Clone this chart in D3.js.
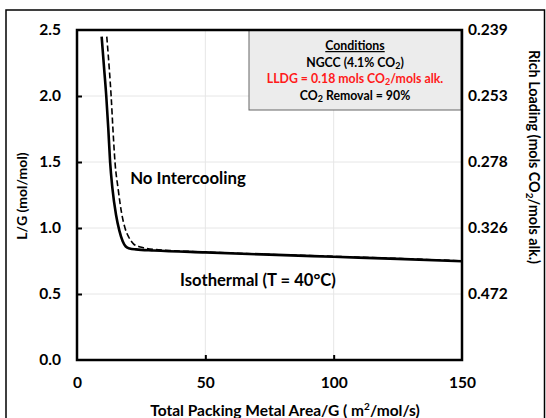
<!DOCTYPE html>
<html>
<head>
<meta charset="utf-8">
<script src="https://cdn.jsdelivr.net/npm/d3@7"></script>
<style>
  html, body { margin: 0; padding: 0; background: #fff; }
  svg text { font-family: Lato, "Open Sans", sans-serif; font-weight: 700; }
</style>
</head>
<body>
<svg id="chart" width="546" height="418"></svg>
<script>
// L/G versus total packing metal area per gas flow
const xTicks = [0, 50, 100, 150];
const yTicks = [0, 0.5, 1.0, 1.5, 2.0, 2.5];
const richLoadingLG = [2.5, 2.0, 1.5, 1.0, 0.5];
const richLoadingLabels = ["0.239", "0.253", "0.278", "0.326", "0.472"];

// Isothermal (T = 40°C) — solid line
const isoArea = [9.6, 10.6, 11.4, 12.2, 12.9, 13.8, 15.2, 16.5, 17.8, 19.0, 20.5, 23, 30, 50, 75, 100, 125, 150];
const isoLG   = [2.45, 2.2, 2.0, 1.75, 1.5, 1.3, 1.1, 0.98, 0.9, 0.86, 0.845, 0.838, 0.83, 0.815, 0.798, 0.782, 0.766, 0.748];

// No intercooling — dashed line
const noIcArea = [11.6, 12.6, 13.3, 14.0, 14.8, 16.0, 17.5, 18.7, 20.2, 22, 24, 26, 30, 50, 75, 100, 125, 150];
const noIcLG   = [2.45, 2.2, 2.0, 1.75, 1.5, 1.3, 1.1, 1.0, 0.93, 0.88, 0.86, 0.85, 0.838, 0.818, 0.8, 0.785, 0.769, 0.751];

const conditionsTitle = "Conditions";

const svg = d3.select("#chart");
const m = { left: 77, right: 462, top: 30, bottom: 360 };

const x = d3.scaleLinear().domain([0, 150]).range([m.left, m.right]);
const y = d3.scaleLinear().domain([0, 2.5]).range([m.bottom, m.top]);

// outer frame
svg.append("rect")
  .attr("x", 6).attr("y", 10).attr("width", 538.5).attr("height", 420)
  .attr("fill", "none").attr("stroke", "#000").attr("stroke-width", 1.5);

// grid
const grid = svg.append("g").attr("stroke", "#e6e6e6").attr("stroke-width", 1);
grid.selectAll("line.v").data(xTicks.slice(1, -1)).join("line")
  .attr("x1", d => x(d)).attr("x2", d => x(d))
  .attr("y1", m.top).attr("y2", m.bottom);
grid.selectAll("line.h").data(yTicks.slice(1, -1)).join("line")
  .attr("x1", m.left).attr("x2", m.right)
  .attr("y1", d => y(d)).attr("y2", d => y(d));

// conditions box
const box = svg.append("g");
box.append("rect")
  .attr("x", 249).attr("y", 30).attr("width", 212).attr("height", 80)
  .attr("fill", "#ececec").attr("stroke", "#666").attr("stroke-width", 1);
const bx = 355, bfs = 12.3, sfs = 9;
box.append("text").attr("x", bx).attr("y", 50).attr("text-anchor", "middle")
  .attr("font-size", bfs).attr("text-decoration", "underline").text(conditionsTitle);
const t2 = box.append("text").attr("x", bx).attr("y", 67).attr("text-anchor", "middle").attr("font-size", bfs);
t2.append("tspan").text("NGCC (4.1% CO");
t2.append("tspan").attr("baseline-shift", "-25%").attr("font-size", sfs).text("2");
t2.append("tspan").text(")");
const t3 = box.append("text").attr("x", bx).attr("y", 83).attr("text-anchor", "middle").attr("font-size", bfs).attr("fill", "#ff1a1a");
t3.append("tspan").text("LLDG = 0.18 mols CO");
t3.append("tspan").attr("baseline-shift", "-25%").attr("font-size", sfs).text("2");
t3.append("tspan").text("/mols alk.");
const t4 = box.append("text").attr("x", bx).attr("y", 100).attr("text-anchor", "middle").attr("font-size", bfs);
t4.append("tspan").text("CO");
t4.append("tspan").attr("baseline-shift", "-25%").attr("font-size", sfs).text("2");
t4.append("tspan").text(" Removal = 90%");

// curves
const line = d3.line().x(d => x(d[0])).y(d => y(d[1])).curve(d3.curveMonotoneX);
const isoData = isoArea.map((a, i) => [a, isoLG[i]]);
const noIcData = noIcArea.map((a, i) => [a, noIcLG[i]]);

svg.append("path").datum(noIcData).attr("d", line)
  .attr("fill", "none").attr("stroke", "#000").attr("stroke-width", 1.6)
  .attr("stroke-dasharray", "6,3");
svg.append("path").datum(isoData).attr("d", line)
  .attr("fill", "none").attr("stroke", "#000").attr("stroke-width", 2.6);

// axes
const axisStyle = g => {
  g.select(".domain").remove();
  g.selectAll("text").attr("font-size", 15.5).attr("fill", "#000")
    .style("font-family", "Lato, sans-serif").style("font-weight", 700);
  g.selectAll("line").attr("stroke", "#000").attr("stroke-width", 2);
};

svg.append("g").attr("transform", `translate(0,${m.bottom})`)
  .call(d3.axisBottom(x).tickValues(xTicks).tickSize(-5).tickPadding(17).tickFormat(d3.format("d")))
  .call(axisStyle)
  .call(g => g.selectAll(".tick").filter(d => d === 0 || d === 150).select("line").remove());

svg.append("g").attr("transform", `translate(${m.left},0)`)
  .call(d3.axisLeft(y).tickValues(yTicks).tickSize(-5).tickPadding(16).tickFormat(d3.format(".1f")))
  .call(axisStyle)
  .call(g => g.selectAll(".tick").filter(d => d === 0 || d === 2.5).select("line").remove());

svg.append("g").attr("transform", `translate(${m.right},0)`)
  .call(d3.axisRight(y).tickValues(richLoadingLG).tickSize(0).tickPadding(6)
    .tickFormat((d, i) => richLoadingLabels[i]))
  .call(axisStyle);

// plot frame
svg.append("rect")
  .attr("x", m.left).attr("y", m.top).attr("width", m.right - m.left).attr("height", m.bottom - m.top)
  .attr("fill", "none").attr("stroke", "#000").attr("stroke-width", 2.5);

// annotations
svg.append("text").attr("x", 188).attr("y", 184).attr("text-anchor", "middle")
  .attr("font-size", 16.8).text("No Intercooling");
svg.append("text").attr("x", 258).attr("y", 286).attr("text-anchor", "middle")
  .attr("font-size", 16.6).text("Isothermal (T = 40°C)");

// axis titles
const xt = svg.append("text").attr("x", 285).attr("y", 416)
  .attr("text-anchor", "middle").attr("font-size", 15.5);
xt.append("tspan").text("Total Packing Metal Area/G ( m");
xt.append("tspan").attr("baseline-shift", "super").attr("font-size", 10).text("2");
xt.append("tspan").text("/mol/s)");

svg.append("text").attr("transform", "translate(27,196) rotate(-90)")
  .attr("text-anchor", "middle").attr("font-size", 14).text("L/G (mol/mol)");

const yt = svg.append("text").attr("transform", "translate(529,157) rotate(90)")
  .attr("text-anchor", "middle").attr("font-size", 14.3);
yt.append("tspan").text("Rich Loading (mols CO");
yt.append("tspan").attr("baseline-shift", "-25%").attr("font-size", 10).text("2");
yt.append("tspan").text("/mols alk.)");
</script>
</body>
</html>
